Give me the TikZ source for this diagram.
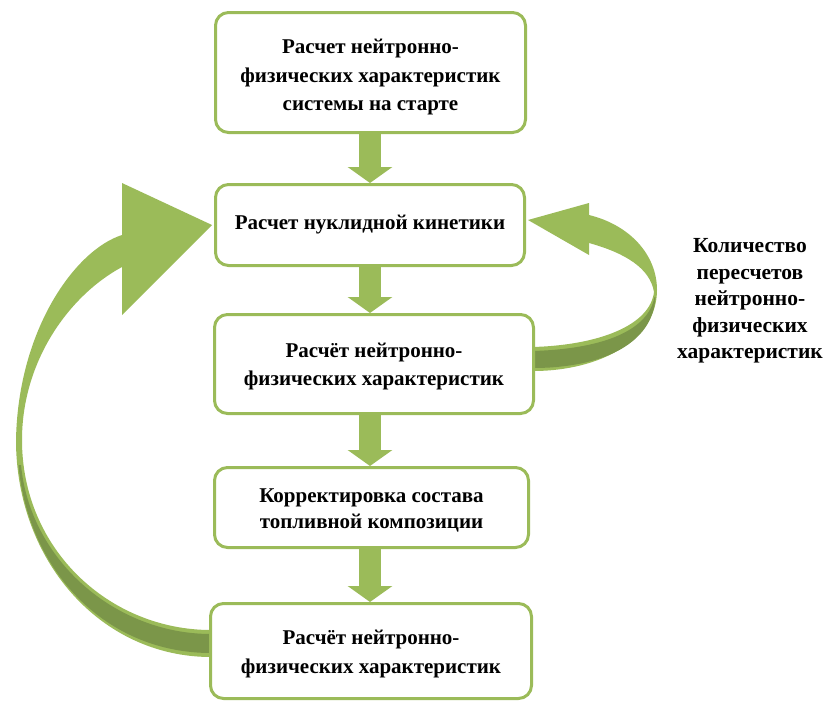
\documentclass[tikz,border=0pt]{standalone}
\usepackage{fontspec}
\setmainfont{Liberation Serif}
\usetikzlibrary{arrows.meta}
\definecolor{og}{HTML}{9BBB59}
\definecolor{ogdark}{HTML}{7B9649}
\newcommand{\tup}[1]{\rule{0pt}{#1}}
\begin{document}
\begin{tikzpicture}[x=1pt,y=-1pt,
  box/.style={draw=og, line width=3pt, fill=white, rounded corners=13pt, align=center, inner sep=0pt, font=\bfseries\fontsize{21}{28.5}\selectfont},
  down/.style={og, line width=22pt, -{Triangle[width=44pt,length=16pt]}},
  lbl/.style={align=center, font=\bfseries\fontsize{21.5}{26.5}\selectfont}]
\useasboundingbox (0,0) rectangle (825,704);
% left curved arrow
\fill[og] (122,235) .. controls (75,250) and (18,330) .. (16,440) .. controls (16,560) and (100,657) .. (211,657) -- (211,630) .. controls (110,630) and (22,550) .. (22,440) .. controls (22,360) and (70,295) .. (122,267) -- cycle;
\fill[ogdark] (18.5,465) .. controls (28,570) and (105,653) .. (211,653) -- (211,634) .. controls (115,634) and (30,560) .. (21,465) -- cycle;
\fill[og] (122,183) -- (212,225) -- (122,315) -- cycle;
% right curved arrow
\fill[og] (589,215) .. controls (630,225) and (657,255) .. (657,290) .. controls (657,340) and (600,371) .. (533,371) -- (533,347) .. controls (600,345) and (650,325) .. (654,292) .. controls (650,268) and (625,253) .. (589,243) -- cycle;
\fill[ogdark] (655.5,297) .. controls (653,345) and (600,368) .. (533,368) -- (533,351) .. controls (600,349) and (648,332) .. (654.5,297) -- cycle;
\fill[og] (528,220) -- (589,203) -- (589,255) -- cycle;
% boxes
\node[box, minimum width=310pt, minimum height=120pt] (b1) at (370.5,72.5) {\tup{24pt}Расчет нейтронно-\\физических характеристик\\системы на старте};
\node[box, minimum width=309pt, minimum height=81pt] (b2) at (370,225) {Расчет нуклидной кинетики};
\node[box, minimum width=319pt, minimum height=99pt] (b3) at (374,364) {\tup{19pt}Расчёт нейтронно-\\физических характеристик};
\node[box, minimum width=314pt, minimum height=80pt, font=\bfseries\fontsize{21}{25.5}\selectfont] (b4) at (371.5,507.5) {\tup{20pt}Корректировка состава\\топливной композиции};
\node[box, minimum width=321pt, minimum height=95pt] (b5) at (371,651) {\tup{20pt}Расчёт нейтронно-\\физических характеристик};
\node[lbl] (q) at (750,301) {Количество\\пересчетов\\нейтронно-\\физических\\характеристик};
% straight arrows
\coordinate (ax) at (370,0);
\draw[down] (b1.south -| ax) -- (b2.north -| ax);
\draw[down] (b2.south -| ax) -- (b3.north -| ax);
\draw[down] (b3.south -| ax) -- (b4.north -| ax);
\draw[down] (b4.south -| ax) -- (b5.north -| ax);
\end{tikzpicture}
\end{document}
